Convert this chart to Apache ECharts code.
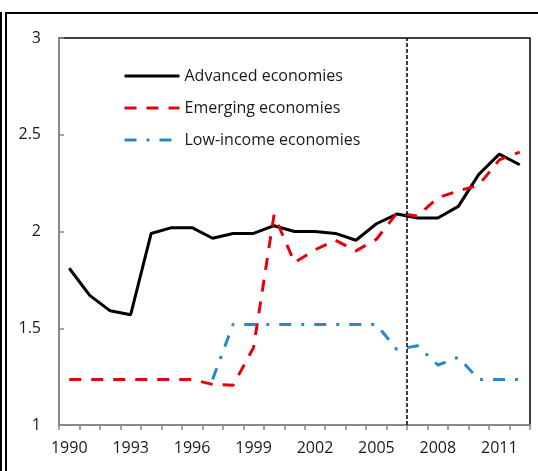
<!DOCTYPE html>
<html>
<head>
<meta charset="utf-8">
<script src="https://cdn.jsdelivr.net/npm/echarts@6/dist/echarts.min.js"></script>
<style>
  html, body { margin: 0; padding: 0; background: #fff; }
  #chart { position: absolute; left: 0; top: 0; width: 538px; height: 471px; }
  .frame { position: absolute; left: 5px; top: 12px; width: 560px; height: 480px; border: 2px solid #000; box-sizing: border-box; }
  .edge { position: absolute; left: 0; top: 12px; width: 2px; height: 470px; background: #000; }
</style>
</head>
<body>
<div class="edge"></div>
<div class="frame"></div>
<div id="chart"></div>
<script>
// years on the x axis
var years = ['1990','1991','1992','1993','1994','1995','1996','1997','1998','1999','2000',
  '2001','2002','2003','2004','2005','2006','2007','2008','2009','2010','2011','2012'];

var advanced = [1.81, 1.67, 1.59, 1.57, 1.99, 2.02, 2.02, 1.965, 1.99, 1.99, 2.03,
  2.0, 2.0, 1.99, 1.955, 2.04, 2.09, 2.07, 2.07, 2.13, 2.295, 2.40, 2.345];

var emerging = [1.235, 1.235, 1.235, 1.235, 1.235, 1.235, 1.235, 1.21, 1.205, 1.40, 2.085,
  1.84, 1.905, 1.955, 1.90, 1.96, 2.095, 2.08, 2.175, 2.21, 2.24, 2.37, 2.41];

var lowIncome = [null, null, null, null, null, null, null, 1.235, 1.52, 1.52, 1.52,
  1.52, 1.52, 1.52, 1.52, 1.52, 1.39, 1.41, 1.31, 1.35, 1.235, 1.235, 1.235];

// boundary index (between 2006 and 2007) for the vertical dashed line
var splitAt = 17;

var font = 'Open Sans';
var chart = echarts.init(document.getElementById('chart'));

var option = {
  animation: false,
  textStyle: { fontFamily: font },
  grid: {
    left: 59, right: 8, top: 38, bottom: 46,
    show: true, borderColor: '#000', borderWidth: 1.5
  },
  legend: {
    orient: 'vertical',
    left: 118, top: 61,
    itemWidth: 55, itemHeight: 14,
    itemGap: 12,
    itemStyle: { opacity: 0 },
    lineStyle: { width: 3 },
    textStyle: { fontFamily: font, fontSize: 16, color: '#1a1a1a', lineHeight: 20 },
    data: ['Advanced economies', 'Emerging economies', 'Low-income economies']
  },
  xAxis: [{
    type: 'category',
    data: years,
    boundaryGap: true,
    axisLine: { lineStyle: { color: '#888', width: 2 } },
    axisTick: { show: true, interval: 0, length: 5, lineStyle: { color: '#888', width: 1.5 } },
    axisLabel: { interval: 2, margin: 15, fontSize: 16, color: '#1a1a1a', fontFamily: font },
    splitLine: { show: false }
  }, {
    type: 'value',
    min: 0, max: years.length,
    show: false
  }],
  yAxis: {
    type: 'value',
    min: 1, max: 3, interval: 0.5,
    axisLine: { show: true, lineStyle: { color: '#888', width: 2 } },
    axisTick: { show: true, inside: true, length: 5, lineStyle: { color: '#888', width: 1.5 } },
    axisLabel: { margin: 18, fontSize: 16, color: '#1a1a1a', fontFamily: font },
    splitLine: { show: false }
  },
  series: [{
    name: 'Advanced economies',
    type: 'line',
    data: advanced,
    symbol: 'none',
    lineStyle: { color: '#000', width: 3 },
    itemStyle: { color: '#000' }
  }, {
    name: 'Emerging economies',
    type: 'line',
    data: emerging,
    symbol: 'none',
    lineStyle: { color: '#e6000e', width: 3, type: [12, 10] },
    itemStyle: { color: '#e6000e' }
  }, {
    name: 'Low-income economies',
    type: 'line',
    data: lowIncome,
    symbol: 'none',
    lineStyle: { color: '#2a88c8', width: 3, type: [12, 10, 3, 10] },
    itemStyle: { color: '#2a88c8' }
  }, {
    type: 'line',
    xAxisIndex: 1,
    data: [],
    silent: true,
    markLine: {
      silent: true,
      symbol: 'none',
      label: { show: false },
      lineStyle: { color: '#000', width: 1.5, type: [4, 2] },
      data: [{ xAxis: splitAt }]
    }
  }]
};

chart.setOption(option);
</script>
</body>
</html>
